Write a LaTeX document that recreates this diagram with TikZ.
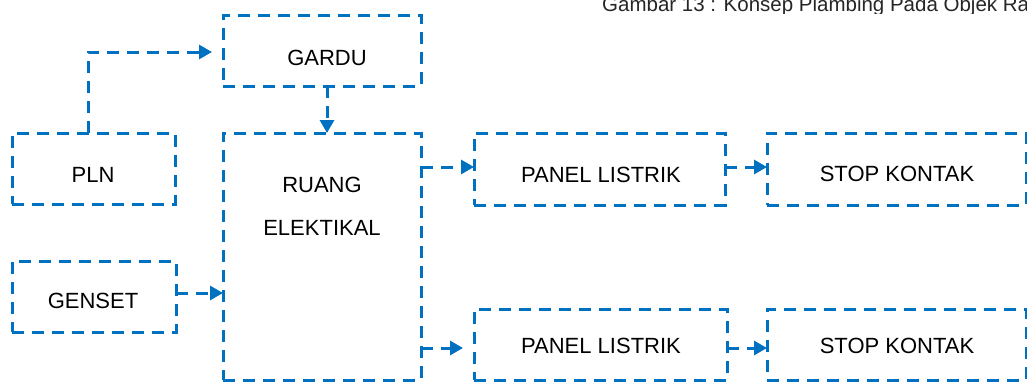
\documentclass[tikz,border=0pt]{standalone}
\usepackage{fontspec}
\setmainfont{Liberation Sans}
\usetikzlibrary{arrows.meta}
\definecolor{lineblue}{RGB}{0,112,192}
\tikzset{
  x=1pt, y=-1pt,
  box/.style={draw=lineblue, line width=3pt, dash pattern=on 12pt off 8pt,
    outer sep=0pt, inner sep=0pt, anchor=north west},
  lbl/.style={font=\fontsize{22}{26}\selectfont, text=black, anchor=base, inner sep=0pt},
  conn/.style={draw=lineblue, line width=3pt, dash pattern=on 12pt off 8pt,
    -{Triangle[length=13pt,width=14pt]}}
}
\begin{document}
\begin{tikzpicture}
\useasboundingbox (0,0) rectangle (1027,383);
% caption (cut at the edges as in the reference)
\begin{scope}
\clip (0,0) rectangle (1027,13);
\node[font=\fontsize{20.5}{24}\selectfont, text=black!85, anchor=base west, inner sep=0pt] (cap) at (602,11.5) {Gambar 13 : Konsep Plambing Pada Objek Ra};
\end{scope}
% boxes
\node[box, minimum width=198pt, minimum height=71pt] (gardu) at (223,15) {};
\node[box, minimum width=163pt, minimum height=71pt] (pln) at (12,133) {};
\node[box, minimum width=198pt, minimum height=247pt] (ruang) at (223,133) {};
\node[box, minimum width=164pt, minimum height=71pt] (genset) at (12,261) {};
\node[box, minimum width=251pt, minimum height=72pt] (panel1) at (474,133) {};
\node[box, minimum width=259pt, minimum height=72pt] (stop1) at (767,133) {};
\node[box, minimum width=253pt, minimum height=71pt] (panel2) at (474,309) {};
\node[box, minimum width=259pt, minimum height=71pt] (stop2) at (767,309) {};
% labels
\node[lbl] (tgardu) at (327,65) {GARDU};
\node[lbl] (tpln) at (93,182) {PLN};
\node[lbl] (truang1) at (322,192) {RUANG};
\node[lbl] (truang2) at (322,235) {ELEKTIKAL};
\node[lbl] (tgenset) at (93,308) {GENSET};
\node[lbl] (tpanel1) at (601,182) {PANEL LISTRIK};
\node[lbl] (tstop1) at (897,181) {STOP KONTAK};
\node[lbl] (tpanel2) at (601,353) {PANEL LISTRIK};
\node[lbl] (tstop2) at (897,353) {STOP KONTAK};
% connectors
\draw[conn] ([xshift=76pt]pln.north west) |- ([xshift=-11pt,yshift=-1.5pt]gardu.west);
\draw[conn] ([xshift=5pt]gardu.south) -- ([xshift=5pt]ruang.north);
\draw[conn] ([yshift=2pt]ruang.east |- panel1.west) -- ([yshift=2pt]panel1.west);
\draw[conn] ([yshift=2pt]panel1.east) -- ([yshift=2pt]panel1.east -| stop1.west);
\draw[conn] ([yshift=3.5pt]genset.east) -- ([yshift=3.5pt]genset.east -| ruang.west);
\draw[conn] ([yshift=-3.5pt]ruang.east |- panel2.west) -- ([xshift=-11pt,yshift=-3.5pt]panel2.west);
\draw[conn] ([yshift=-3.5pt]panel2.east) -- ([yshift=-3.5pt]panel2.east -| stop2.west);
\end{tikzpicture}
\end{document}
